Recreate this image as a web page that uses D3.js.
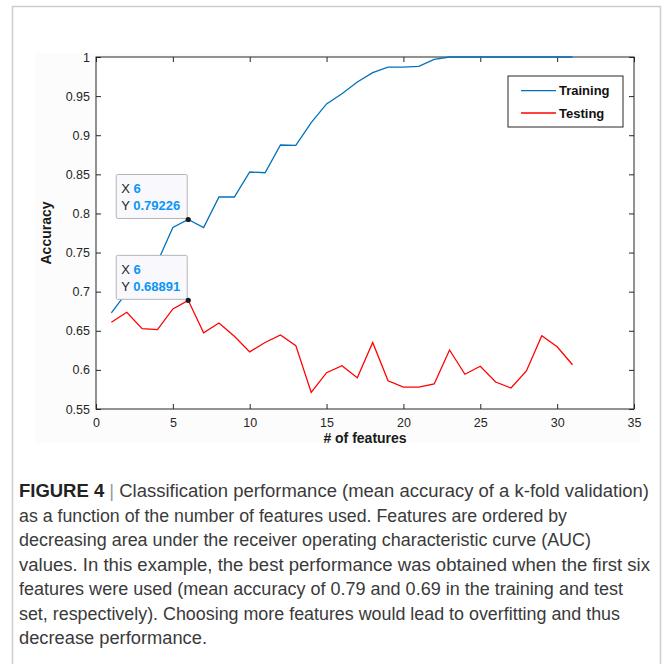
<!DOCTYPE html>
<html>
<head>
<meta charset="utf-8">
<script src="https://cdn.jsdelivr.net/npm/d3@7"></script>
<style>
	body { margin: 0; background: #fff; }
	svg text { font-family: "Liberation Sans", Arial, Helvetica, sans-serif; }
</style>
</head>
<body>
<div id="chart"></div>
<script>

// data
const features = [1, 2, 3, 4, 5, 6, 7, 8, 9, 10, 11, 12, 13, 14, 15, 16, 17, 18, 19, 20, 21, 22, 23, 24, 25, 26, 27, 28, 29, 30, 31];
const training = [0.673, 0.699, 0.718, 0.738, 0.782, 0.79226, 0.782, 0.821, 0.821, 0.853, 0.852, 0.8875, 0.887, 0.916, 0.94, 0.953,
	0.968, 0.980, 0.987, 0.987, 0.988, 0.997, 1, 1, 1, 1, 1, 1, 1, 1, 1];
const testing = [0.661, 0.6736, 0.6527, 0.6514, 0.678, 0.68891, 0.6475, 0.660, 0.643, 0.623, 0.635, 0.6446, 0.631, 0.5713, 0.5964, 0.6053,
	0.590, 0.635, 0.586, 0.578, 0.578, 0.582, 0.6254, 0.5944, 0.6046, 0.5845, 0.5768, 0.5986, 0.6437, 0.6296, 0.6066];
const seriesNames = ["Training", "Testing"];
const xTicks = [0, 5, 10, 15, 20, 25, 30, 35];
const yTicks = [0.55, 0.6, 0.65, 0.7, 0.75, 0.8, 0.85, 0.9, 0.95, 1];
const tipIndex = 5;

const captionHead = "FIGURE 4";
const captionLines = [
	"Classification performance (mean accuracy of a k-fold validation)",
	"as a function of the number of features used. Features are ordered by",
	"decreasing area under the receiver operating characteristic curve (AUC)",
	"values. In this example, the best performance was obtained when the first six",
	"features were used (mean accuracy of 0.79 and 0.69 in the training and test",
	"set, respectively). Choosing more features would lead to overfitting and thus",
	"decrease performance."
];
// right edge of each caption line (layout)
const captionEnds = [649, 567, 591, 650, 623, 620, 207];

function AccuracyChart(container){

	const W = 664, H = 664;
	const margin = { top: 57, left: 96 };
	const width = 538;
	const height = 352;
	const colors = ["#0072BD", "#FF0000"];

	const svg = d3.select(container)
		.append("svg")
		.attr("width", W)
		.attr("height", H);

	svg.append("rect").attr("width", W).attr("height", H).attr("fill", "#fff");

	// figure frame
	svg.append("path")
		.attr("d", "M12.5," + (H + 2) + "V6.5H660.5V" + (H + 2))
		.attr("fill", "none")
		.attr("stroke", "#cdcdcd")
		.attr("stroke-width", 1.5);

	// faint image background
	svg.append("rect")
		.attr("x", 35).attr("y", 53).attr("width", 605).attr("height", 390)
		.attr("fill", "#fcfcfc");

	const chart = svg.append("g")
		.attr("transform", `translate(${margin.left},${margin.top})`);

	const xScale = d3.scaleLinear().domain([0, 35]).range([0, width]);
	const yScale = d3.scaleLinear().domain([0.55, 1]).range([height, 0]);

	chart.append("rect").attr("width", width).attr("height", height).attr("fill", "#fff");

	const fmt = d => String(d);
	const axes = [
		{ axis: d3.axisBottom(xScale).tickValues(xTicks).tickFormat(fmt), t: `translate(0,${height})`, labels: true, bottom: true },
		{ axis: d3.axisTop(xScale).tickValues(xTicks).tickFormat(""), t: "translate(0,0)", labels: false },
		{ axis: d3.axisLeft(yScale).tickValues(yTicks).tickFormat(fmt), t: "translate(0,0)", labels: true },
		{ axis: d3.axisRight(yScale).tickValues(yTicks).tickFormat(""), t: `translate(${width},0)`, labels: false }
	];
	axes.forEach(a => {
		const g = chart.append("g")
			.attr("transform", a.t)
			.call(a.axis.tickSizeInner(-5).tickSizeOuter(0).tickPadding(a.labels ? 6 : 0));
		g.select(".domain").remove();
		g.selectAll(".tick line").attr("stroke", "#262626");
		g.selectAll(".tick text")
			.attr("fill", "#262626")
			.style("font-size", "12.5px");
		if (a.bottom) g.selectAll(".tick text").attr("dy", "0.95em");
	});

	// box
	chart.append("rect")
		.attr("width", width).attr("height", height)
		.attr("fill", "none")
		.attr("stroke", "#262626")
		.attr("stroke-width", 1);

	// lines
	const line = d3.line()
		.x((d, i) => xScale(features[i]))
		.y(d => yScale(d));

	[training, testing].forEach((s, k) => {
		chart.append("path")
			.datum(s)
			.attr("d", line)
			.attr("fill", "none")
			.attr("stroke", colors[k])
			.attr("stroke-width", 1.3);
	});

	// datatips
	[training, testing].forEach(s => {
		const px = xScale(features[tipIndex]);
		const py = yScale(s[tipIndex]);
		const bx = px - 72, by = py - 45;
		chart.append("rect")
			.attr("x", bx).attr("y", by)
			.attr("width", 71).attr("height", 44)
			.attr("rx", 1.5)
			.attr("fill", "#f8f8fd")
			.attr("stroke", "#b4b4bb")
			.attr("stroke-width", 1);
		const rows = [["X", String(features[tipIndex])], ["Y", String(s[tipIndex])]];
		rows.forEach((r, j) => {
			const t = chart.append("text")
				.attr("x", bx + 5)
				.attr("y", by + 19 + j * 16.5)
				.style("font-size", "13px");
			t.append("tspan").attr("fill", "#262626").text(r[0] + " ");
			t.append("tspan").attr("fill", "#0a96f5").attr("font-weight", "bold").text(r[1]);
		});
		chart.append("circle")
			.attr("cx", px).attr("cy", py).attr("r", 2.6)
			.attr("fill", "#1a1a1a");
	});

	// axis labels
	chart.append("text")
		.attr("x", width / 2).attr("y", height + 34)
		.attr("text-anchor", "middle")
		.attr("font-weight", "bold")
		.style("font-size", "14px")
		.attr("fill", "#1a1a1a")
		.text("# of features");

	chart.append("text")
		.attr("transform", `translate(-45,${height / 2}) rotate(-90)`)
		.attr("text-anchor", "middle")
		.attr("font-weight", "bold")
		.style("font-size", "14px")
		.attr("fill", "#1a1a1a")
		.text("Accuracy");

	// legend
	const legend = chart.append("g").attr("transform", `translate(${width - 126},19)`);
	legend.append("rect")
		.attr("width", 115).attr("height", 51)
		.attr("fill", "#fff")
		.attr("stroke", "#262626")
		.attr("stroke-width", 1);
	seriesNames.forEach((name, k) => {
		const y = 14.7 + k * 22.3;
		legend.append("line")
			.attr("x1", 13).attr("x2", 48)
			.attr("y1", y).attr("y2", y)
			.attr("stroke", colors[k])
			.attr("stroke-width", 1.3);
		legend.append("text")
			.attr("x", 51).attr("y", y)
			.attr("dy", "0.36em")
			.attr("font-weight", "bold")
			.style("font-size", "13px")
			.attr("fill", "#111")
			.text(name);
	});

	// caption
	const cap = svg.append("g");
	captionLines.forEach((txt, i) => {
		const t = cap.append("text")
			.attr("x", 19)
			.attr("y", 497 + i * 24.5)
			.attr("textLength", captionEnds[i] - 19)
			.attr("lengthAdjust", "spacingAndGlyphs")
			.style("font-family", '"Liberation Sans Narrow", "Liberation Sans", Arial, sans-serif')
			.style("font-size", "17.5px")
			.attr("fill", "#3a3a3a");
		if (i === 0) {
			t.append("tspan").attr("font-weight", "bold").attr("fill", "#222").text(captionHead);
			t.append("tspan").attr("fill", "#999").text(" | ");
		}
		t.append("tspan").text(txt);
	});
}

AccuracyChart("#chart");
</script>
</body>
</html>
